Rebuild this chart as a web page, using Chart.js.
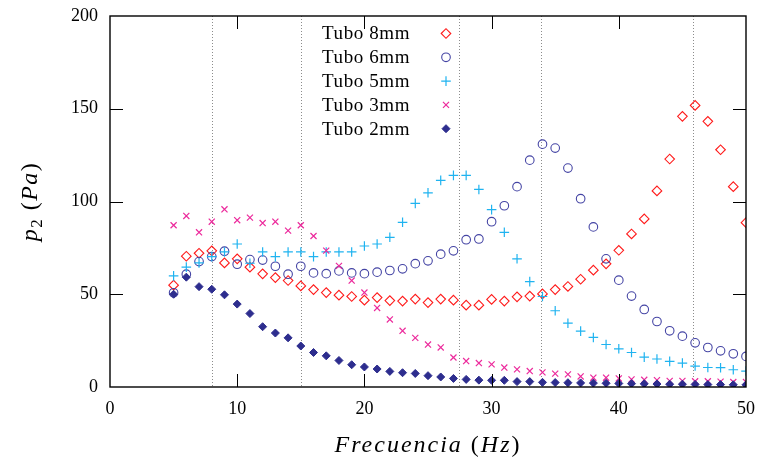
<!DOCTYPE html>
<html>
<head>
<meta charset="utf-8">
<title>Presión p2 frente a frecuencia</title>
<script src="https://cdn.jsdelivr.net/npm/chart.js@4/dist/chart.umd.min.js"></script>
<style>
  html, body { margin: 0; padding: 0; background: #fff; }
  canvas { display: block; }
</style>
</head>
<body>
<canvas id="chart" width="760" height="463"></canvas>
<script>
/* ─── Data ─── */
const freq = [5, 6, 7, 8, 9, 10, 11, 12, 13, 14, 15, 16, 17, 18, 19, 20, 21, 22, 23, 24, 25, 26, 27,
              28, 29, 30, 31, 32, 33, 34, 35, 36, 37, 38, 39, 40, 41, 42, 43, 44, 45, 46, 47, 48, 49, 50];

const tubo8 = [54.9, 70.5, 72.1, 73.4, 66.9, 69.1, 64.6, 61.0, 59.0, 57.4, 54.5, 52.5, 50.9, 49.5, 48.8, 46.8,
               48.2, 46.6, 46.3, 47.4, 45.5, 47.4, 46.8, 44.1, 44.1, 47.2, 46.3, 48.6, 49.0, 50.2, 52.5, 54.2,
               58.1, 63.0, 66.4, 73.7, 82.5, 90.6, 105.7, 122.9, 145.9, 151.8, 143.2, 127.9, 108.0, 88.6];
const tubo6 = [50.8, 60.8, 67.6, 70.3, 73.2, 66.2, 68.7, 68.4, 65.1, 60.8, 65.1, 61.5, 61.1, 62.6, 61.5, 61.1,
               61.9, 62.8, 63.7, 66.5, 68.0, 71.6, 73.4, 79.4, 79.8, 89.1, 97.7, 108.0, 122.3, 130.9, 128.8, 118.0,
               101.5, 86.3, 69.1, 57.6, 49.0, 41.8, 35.3, 30.3, 27.4, 23.8, 21.3, 19.5, 17.9, 16.5];
const tubo5 = [59.9, 64.6, 66.9, 70.3, 72.8, 77.1, 66.7, 72.8, 70.3, 72.8, 72.8, 70.3, 72.8, 72.8, 72.8, 76.0,
               77.1, 80.7, 88.8, 99.0, 104.7, 111.4, 114.1, 114.1, 106.5, 95.6, 83.4, 69.1, 56.8, 48.8, 41.1, 34.4,
               30.1, 26.7, 22.9, 20.6, 18.6, 16.1, 15.1, 13.8, 12.9, 11.3, 10.5, 10.4, 9.3, 8.6];
const tubo3 = [87.2, 92.2, 83.4, 89.1, 95.8, 89.9, 91.3, 88.4, 89.1, 84.3, 87.2, 81.4, 73.5, 65.3, 57.4, 50.9,
               42.6, 36.4, 30.3, 26.5, 22.9, 21.3, 15.9, 14.0, 12.9, 12.2, 10.5, 9.5, 8.6, 7.9, 7.2, 6.8,
               5.7, 5.0, 5.0, 4.6, 4.1, 3.9, 3.7, 3.3, 3.3, 3.1, 3.1, 2.9, 2.7, 2.7];
const tubo2 = [50.0, 59.2, 54.1, 52.7, 49.7, 44.7, 39.6, 32.5, 29.1, 26.5, 22.1, 18.6, 16.8, 14.3, 12.0, 10.8,
               9.7, 8.4, 7.7, 7.3, 6.1, 5.4, 4.6, 4.1, 3.7, 3.6, 3.6, 2.9, 2.9, 2.5, 2.4, 2.3,
               2.2, 2.1, 2.0, 1.9, 1.8, 1.7, 1.6, 1.5, 1.5, 1.4, 1.3, 1.3, 1.2, 1.2];

const seriesLabels = ['Tubo 8mm', 'Tubo 6mm', 'Tubo 5mm', 'Tubo 3mm', 'Tubo 2mm'];
const xTicks = [0, 10, 20, 30, 40, 50];
const yTicks = [0, 50, 100, 150, 200];
// frecuencias marcadas con líneas punteadas
const resonances = [8, 15, 27.4, 33.9, 45.8];

const SERIF = '"Liberation Serif", "DejaVu Serif", serif';

function pts(values) {
  return freq.map((f, i) => ({ x: f, y: values[i] }));
}

/* ─── Plugin: marco, ticks hacia dentro, líneas punteadas, leyenda, títulos ─── */
const decorations = {
  id: 'decorations',
  beforeDatasetsDraw(chart) {
    const { ctx, chartArea: a, scales } = chart;
    ctx.save();
    ctx.strokeStyle = '#8c8c8c';
    ctx.lineWidth = 1;
    ctx.setLineDash([1, 2]);
    resonances.forEach(v => {
      const x = Math.round(scales.x.getPixelForValue(v)) + 0.5;
      ctx.beginPath();
      ctx.moveTo(x, a.top);
      ctx.lineTo(x, a.bottom);
      ctx.stroke();
    });
    ctx.restore();
  },
  afterDatasetsDraw(chart) {
    const { ctx, chartArea: a, scales } = chart;
    const T = 13;
    ctx.save();
    ctx.strokeStyle = '#000';
    ctx.lineWidth = 1;
    ctx.beginPath();
    xTicks.slice(1, -1).forEach(v => {
      const x = Math.round(scales.x.getPixelForValue(v)) + 0.5;
      ctx.moveTo(x, a.bottom); ctx.lineTo(x, a.bottom - T);
      ctx.moveTo(x, a.top); ctx.lineTo(x, a.top + T);
    });
    yTicks.slice(1, -1).forEach(v => {
      const y = Math.round(scales.y.getPixelForValue(v)) + 0.5;
      ctx.moveTo(a.left, y); ctx.lineTo(a.left + T, y);
      ctx.moveTo(a.right, y); ctx.lineTo(a.right - T, y);
    });
    ctx.stroke();
    ctx.lineWidth = 1.4;
    ctx.strokeRect(a.left, a.top, a.right - a.left, a.bottom - a.top);

    // leyenda: texto a la izquierda, marcador a la derecha
    ctx.textBaseline = 'middle';
    ctx.textAlign = 'left';
    chart.data.datasets.forEach((ds, i) => {
      const y = 33.5 + i * 23.8;
      ctx.font = '19px ' + SERIF;
      ctx.letterSpacing = '0.6px';
      ctx.fillStyle = '#000';
      ctx.fillText(ds.label, 322, y + 1);
      ctx.letterSpacing = '0px';
      ctx.fillStyle = ds.backgroundColor;
      ctx.strokeStyle = ds.borderColor;
      ctx.lineWidth = ds.borderWidth;
      Chart.helpers.drawPoint(ctx, {
        pointStyle: ds.pointStyle, radius: ds.pointRadius, rotation: 0, borderWidth: ds.borderWidth
      }, 446, y);
    });

    // títulos de los ejes
    const xRuns = [['Frecuencia', 'i'], [' (', 'n'], ['Hz', 'i'], [')', 'n']];
    const yRuns = [['p', 'i'], ['2', 's'], [' (', 'n'], ['Pa', 'i'], [')', 'n']];
    drawRuns(ctx, xRuns, (a.left + a.right) / 2, 444, 0, 24, 2);
    drawRuns(ctx, yRuns, 29.5, (a.top + a.bottom) / 2, -Math.PI / 2, 24, 1.5);
    ctx.restore();
  }
};

function runFont(kind, size) {
  if (kind === 'i') return 'italic ' + size + 'px ' + SERIF;
  if (kind === 's') return Math.round(size * 0.7) + 'px ' + SERIF;
  return size + 'px ' + SERIF;
}

function drawRuns(ctx, runs, cx, cy, rot, size, spacing) {
  ctx.save();
  ctx.translate(cx, cy);
  ctx.rotate(rot);
  ctx.fillStyle = '#000';
  ctx.textBaseline = 'alphabetic';
  ctx.textAlign = 'left';
  ctx.letterSpacing = spacing + 'px';
  let total = 0;
  runs.forEach(r => { ctx.font = runFont(r[1], size); total += ctx.measureText(r[0]).width; });
  let x = -total / 2;
  const base = size * 0.33;
  runs.forEach(r => {
    ctx.font = runFont(r[1], size);
    ctx.fillText(r[0], x, r[1] === 's' ? base + size * 0.18 : base);
    x += ctx.measureText(r[0]).width;
  });
  ctx.restore();
}

/* ─── Chart ─── */
new Chart(document.getElementById('chart').getContext('2d'), {
  type: 'scatter',
  data: {
    datasets: [
      { label: seriesLabels[0], data: pts(tubo8), pointStyle: 'rectRot', pointRadius: 4.8,
        borderColor: '#ff1a1a', backgroundColor: 'rgba(0,0,0,0)', borderWidth: 1.1, order: 5 },
      { label: seriesLabels[1], data: pts(tubo6), pointStyle: 'circle', pointRadius: 4.3,
        borderColor: '#4444a4', backgroundColor: 'rgba(0,0,0,0)', borderWidth: 1.1, order: 4 },
      { label: seriesLabels[2], data: pts(tubo5), pointStyle: 'cross', pointRadius: 4.8,
        borderColor: '#1fb3f0', backgroundColor: 'rgba(0,0,0,0)', borderWidth: 1.2, order: 3 },
      { label: seriesLabels[3], data: pts(tubo3), pointStyle: 'crossRot', pointRadius: 4.3,
        borderColor: '#ec2a9c', backgroundColor: 'rgba(0,0,0,0)', borderWidth: 1.2, order: 2 },
      { label: seriesLabels[4], data: pts(tubo2), pointStyle: 'rectRot', pointRadius: 4,
        borderColor: '#2d2d8e', backgroundColor: '#2d2d8e', borderWidth: 1, order: 1 }
    ]
  },
  options: {
    responsive: false,
    animation: false,
    devicePixelRatio: 1,
    events: [],
    layout: { padding: { top: 16, right: 14, left: 0, bottom: 0 } },
    plugins: {
      legend: { display: false },
      tooltip: { enabled: false }
    },
    scales: {
      x: {
        type: 'linear',
        min: 0, max: 50,
        afterBuildTicks: s => { s.ticks = xTicks.map(v => ({ value: v })); },
        afterFit: s => { s.height = 76; s.paddingLeft = 0; s.paddingRight = 0; },
        grid: { display: false, drawTicks: false },
        border: { display: false },
        ticks: { color: '#000', padding: 11, font: { family: SERIF, size: 18 } }
      },
      y: {
        min: 0, max: 200,
        afterBuildTicks: s => { s.ticks = yTicks.map(v => ({ value: v })); },
        afterFit: s => { s.width = 110; s.paddingTop = 0; s.paddingBottom = 0; },
        grid: { display: false, drawTicks: false },
        border: { display: false },
        ticks: { color: '#000', padding: 12, font: { family: SERIF, size: 18 } }
      }
    }
  },
  plugins: [decorations]
});
</script>
</body>
</html>
